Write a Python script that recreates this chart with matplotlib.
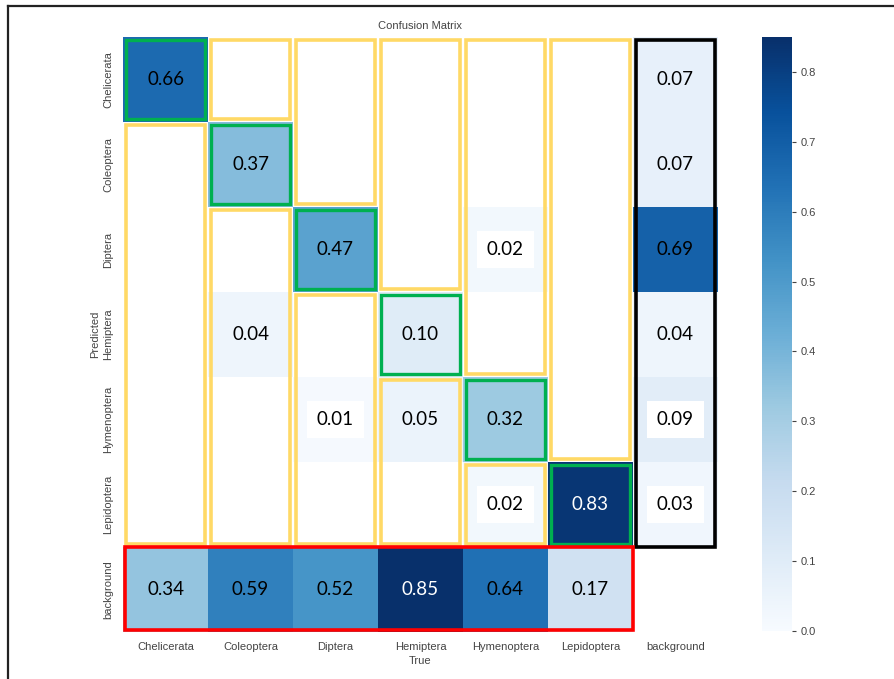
import matplotlib.pyplot as plt
import numpy as np
from matplotlib.patches import Rectangle
from matplotlib.lines import Line2D

classes = ["Chelicerata", "Coleoptera", "Diptera", "Hemiptera",
           "Hymenoptera", "Lepidoptera", "background"]

# rows = Predicted, cols = True (0 means empty cell)
cm = [
    [0.66, 0.00, 0.00, 0.00, 0.00, 0.00, 0.07],
    [0.00, 0.37, 0.00, 0.00, 0.00, 0.00, 0.07],
    [0.00, 0.00, 0.47, 0.00, 0.02, 0.00, 0.69],
    [0.00, 0.04, 0.00, 0.10, 0.00, 0.00, 0.04],
    [0.00, 0.00, 0.01, 0.05, 0.32, 0.00, 0.09],
    [0.00, 0.00, 0.00, 0.00, 0.02, 0.83, 0.03],
    [0.34, 0.59, 0.52, 0.85, 0.64, 0.17, np.nan],
]

# cells whose numbers sit on a white label
boxed = [(2, 4), (4, 2), (4, 6), (5, 4), (5, 6)]

# highlight groups: (col, first row, last row)
yellow = [(0, 1, 5), (1, 0, 0), (1, 2, 5), (2, 0, 1), (2, 3, 5),
          (3, 0, 2), (3, 4, 5), (4, 0, 3), (4, 5, 5), (5, 0, 4)]

data = np.array(cm, dtype=float)
data[data < 0.005] = np.nan
n = len(classes)

fig = plt.figure(figsize=(8.94, 6.79), dpi=100)
ax = fig.add_axes([0.1376, 0.0692, 0.6655, 0.8763])
cax = fig.add_axes([0.8523, 0.0707, 0.0336, 0.8748])

mesh = ax.pcolormesh(np.ma.masked_invalid(data), cmap="Blues", vmin=0, vmax=0.85)
ax.set_xlim(0, n)
ax.set_ylim(n, 0)
for s in ax.spines.values():
    s.set_visible(False)

lab = dict(family="Liberation Sans", color="#444444", fontsize=8)
ax.set_xticks(np.arange(n) + 0.5)
ax.set_xticklabels(classes, **lab)
ax.set_yticks(np.arange(n) + 0.5)
ax.set_yticklabels(classes, rotation=90, va="center", **lab)
ax.tick_params(length=0, pad=7)
ax.set_xlabel("True", labelpad=3, **lab)
ax.set_ylabel("Predicted", labelpad=2, **lab)
ax.set_title("Confusion Matrix", pad=6, **lab)

for i in range(n):
    for j in range(n):
        v = data[i, j]
        if np.isnan(v):
            continue
        col = "white" if v > 0.8 else "black"
        kw = {}
        if (i, j) in boxed:
            kw["bbox"] = dict(boxstyle="square,pad=0.55", fc="white", ec="none")
        ax.text(j + 0.5, i + 0.5, f"{v:.2f}", ha="center", va="center",
                fontsize=13.5, family="Lato", color=col, **kw)

d = 0.03
for c, r0, r1 in yellow:
    ax.add_patch(Rectangle((c + d, r0 + d), 1 - 2 * d, r1 - r0 + 1 - 2 * d,
                           fill=False, ec="#FFD966", lw=2.6, clip_on=False))
for k in range(n - 1):
    ax.add_patch(Rectangle((k + d, k + d), 1 - 2 * d, 1 - 2 * d,
                           fill=False, ec="#00B050", lw=2.4, clip_on=False))
ax.add_patch(Rectangle((n - 1 + d, d), 1 - 2 * d, n - 1 - d,
                       fill=False, ec="black", lw=2.6, clip_on=False))
ax.add_patch(Rectangle((0.02, n - 1), n - 1 - 0.02, 0.98,
                       fill=False, ec="#FF0000", lw=2.6, clip_on=False))

cb = fig.colorbar(mesh, cax=cax)
cb.outline.set_visible(False)
cb.set_ticks(np.arange(0, 0.81, 0.1))
cb.ax.tick_params(labelsize=8, labelcolor="#444444", color="#444444", length=3)
for t in cb.ax.get_yticklabels():
    t.set_family("Liberation Sans")

fig.add_artist(Line2D([8 / 894, 1], [1 - 6 / 679, 1 - 6 / 679], color="#222222", lw=1.6))
fig.add_artist(Line2D([8 / 894, 8 / 894], [0, 1 - 6 / 679], color="#222222", lw=1.6))

fig.savefig("out.png", dpi=100)
